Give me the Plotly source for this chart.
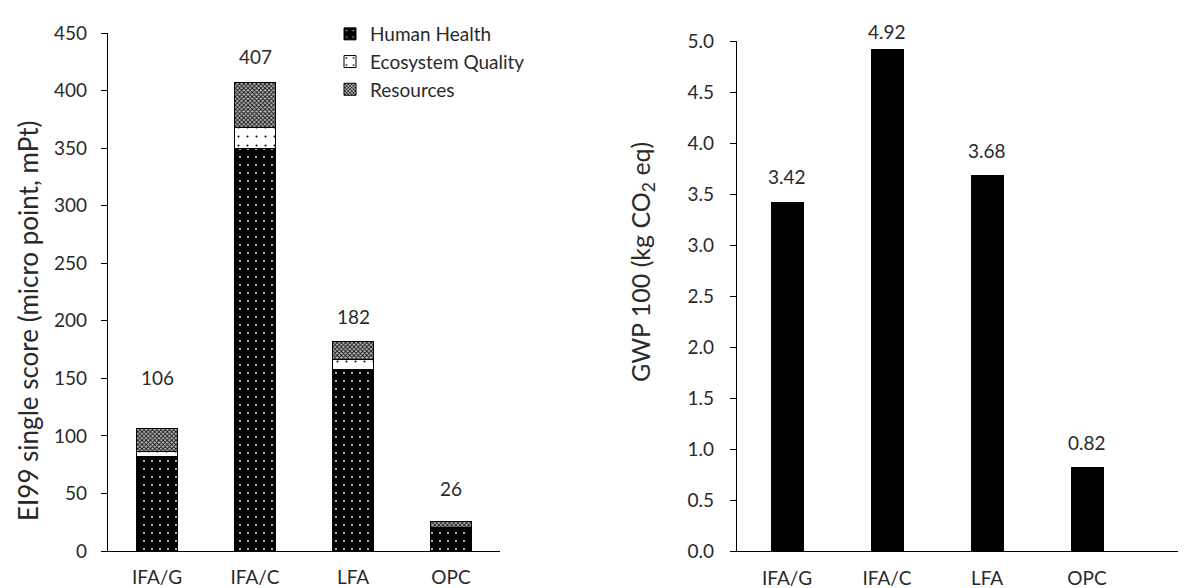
import plotly.graph_objects as go

categories = ["IFA/G", "IFA/C", "LFA", "OPC"]
human_health = [82.5, 350.0, 157.5, 19.5]
ecosystem_quality = [4.1, 17.5, 8.5, 0.5]
resources = [19.4, 39.5, 16.0, 6.0]
ei99_totals = [106, 407, 182, 26]
gwp100 = [3.42, 4.92, 3.68, 0.82]

left_label_shift = [51, 26, 25, 33]
right_label_shift = [26, 18, 25, 25]

FONT = "Lato"
TXT = "#2a2a2a"
FS = 19
W, H = 1189, 588

def px_x(p):
    return p / W

def px_y(p):
    return (H - p) / H

fig = go.Figure()

fig.add_trace(go.Bar(
    x=categories, y=human_health, name="Human Health", legendgroup="hh",
    xaxis="x", yaxis="y", width=0.42,
    marker=dict(color="black", line=dict(color="black", width=1),
                pattern=dict(shape=".", fgcolor="white", bgcolor="black",
                             size=8, solidity=0.04, fillmode="replace")),
))
fig.add_trace(go.Bar(
    x=categories, y=ecosystem_quality, name="Ecosystem Quality", legendgroup="eq",
    xaxis="x", yaxis="y", width=0.42,
    marker=dict(color="white", line=dict(color="black", width=1),
                pattern=dict(shape=".", fgcolor="black", bgcolor="white",
                             size=9, solidity=0.04, fillmode="replace")),
))
fig.add_trace(go.Bar(
    x=categories, y=resources, name="Resources", legendgroup="re",
    xaxis="x", yaxis="y", width=0.42,
    marker=dict(color="#666666", line=dict(color="black", width=1),
                pattern=dict(shape="x", fgcolor="#111111", bgcolor="#b8b8b8",
                             size=3, solidity=0.5, fillmode="replace")),
))
fig.add_trace(go.Bar(
    x=categories, y=gwp100, name="GWP",
    xaxis="x2", yaxis="y2", width=0.32, showlegend=False,
    marker=dict(color="black", line=dict(color="black", width=1)),
))

annotations = []
for c, t, s in zip(categories, ei99_totals, left_label_shift):
    annotations.append(dict(x=c, y=t, xref="x", yref="y", text=str(t),
                            showarrow=False, yshift=s, yanchor="middle",
                            font=dict(family=FONT, size=FS, color=TXT)))
for c, v, s in zip(categories, gwp100, right_label_shift):
    annotations.append(dict(x=c, y=v, xref="x2", yref="y2", text=f"{v:.2f}",
                            showarrow=False, yshift=s, yanchor="middle",
                            font=dict(family=FONT, size=FS, color=TXT)))

annotations.append(dict(x=px_x(20), y=px_y(313), xref="paper", yref="paper",
                        text="EI99 single score (micro point, mPt)", textangle=-90,
                        showarrow=False, xanchor="center", yanchor="middle",
                        font=dict(family=FONT, size=26, color=TXT)))
annotations.append(dict(x=px_x(634), y=px_y(254), xref="paper", yref="paper",
                        text="GWP 100 (kg CO<sub>2</sub> eq)", textangle=-90,
                        showarrow=False, xanchor="center", yanchor="middle",
                        font=dict(family=FONT, size=25, color=TXT)))

axis_common = dict(showgrid=False, zeroline=False, showline=True,
                   linecolor="black", linewidth=1.3,
                   tickfont=dict(family=FONT, size=FS, color=TXT))

fig.update_layout(
    width=W, height=H,
    margin=dict(l=0, r=0, t=0, b=0, autoexpand=False),
    paper_bgcolor="white", plot_bgcolor="white",
    barmode="stack",
    font=dict(family=FONT, size=FS, color=TXT),
    xaxis=dict(domain=[px_x(100), px_x(492)], anchor="y", type="category",
               range=[-0.5, 3.5], ticks="", ticklabelstandoff=9, **axis_common),
    yaxis=dict(domain=[px_y(543), px_y(25)], anchor="x", range=[0, 450],
               dtick=50, ticks="outside", ticklen=6, tickcolor="black",
               tickwidth=1.3, ticklabelstandoff=10, **axis_common),
    xaxis2=dict(domain=[px_x(729), px_x(1170)], anchor="y2", type="category",
                range=[-0.5, 3.91], ticks="", ticklabelstandoff=10, **axis_common),
    yaxis2=dict(domain=[px_y(543), px_y(33.3)], anchor="x2", range=[0, 5],
                dtick=0.5, tickformat=".1f", ticks="outside", ticklen=6,
                tickcolor="black", tickwidth=1.3, ticklabelstandoff=12, **axis_common),
    legend=dict(x=px_x(322), y=px_y(7), xanchor="left", yanchor="top",
                traceorder="normal", bgcolor="rgba(0,0,0,0)",
                font=dict(family=FONT, size=FS, color=TXT),
                tracegroupgap=2, itemwidth=30),
    annotations=annotations,
)

fig.write_html("out.html")
